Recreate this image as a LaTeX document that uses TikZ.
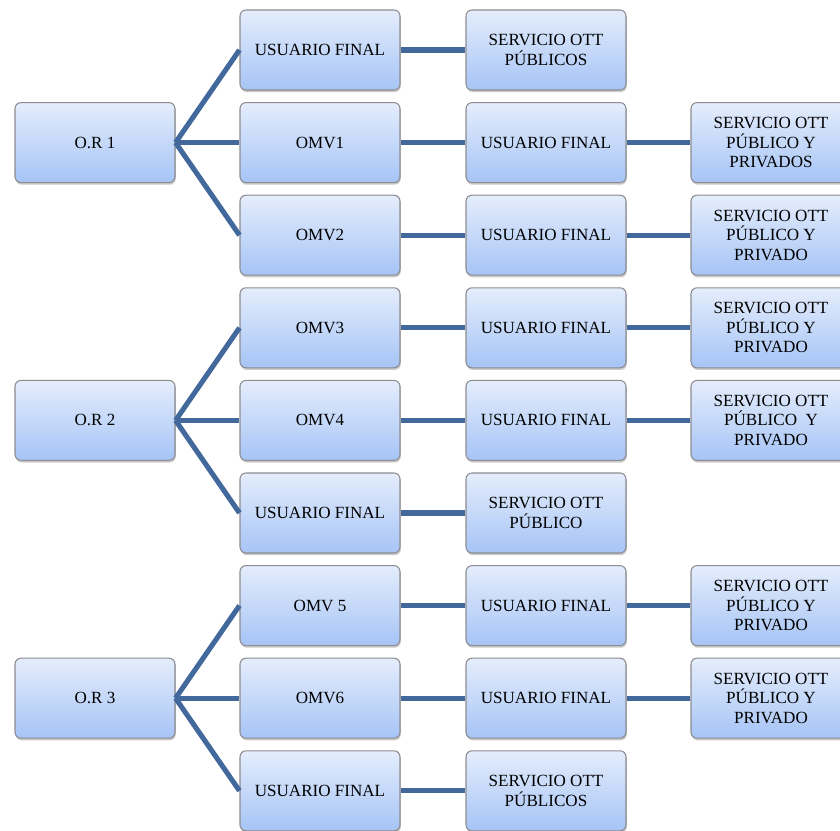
\documentclass[tikz,border=0pt]{standalone}
\usepackage{fontspec}
\setmainfont{Liberation Serif}
\usetikzlibrary{shadows}
\definecolor{linkblue}{RGB}{66,104,156}
\definecolor{boxtop}{RGB}{228,237,252}
\definecolor{boxbot}{RGB}{166,196,246}
\definecolor{boxedge}{RGB}{140,140,145}
\tikzset{
  box/.style={draw=boxedge, line width=0.8pt, rounded corners=4.5pt,
    top color=boxtop, bottom color=boxbot,
    minimum width=120pt, minimum height=60pt, inner sep=1pt,
    align=center, font=\fontsize{12.8}{14.6}\selectfont,
    drop shadow={shadow xshift=0.6pt, shadow yshift=-1.6pt, opacity=0.35, fill=black!60}},
  link/.style={draw=linkblue, line width=3.8pt}
}
\begin{document}
\begin{tikzpicture}[x=0.75pt,y=-0.75pt]
\useasboundingbox (0,0) rectangle (840,831);
\clip (0,0) rectangle (840,831);
% column 1
\node[box] (or1) at (95,142.6) {O.R 1};
\node[box] (or2) at (95,420.4) {O.R 2};
\node[box] (or3) at (95,698.2) {O.R 3};
% column 2
\node[box] (b1) at (320,50) {USUARIO FINAL};
\node[box] (b2) at (320,142.6) {OMV1};
\node[box] (b3) at (320,235.2) {OMV2};
\node[box] (b4) at (320,327.8) {OMV3};
\node[box] (b5) at (320,420.4) {OMV4};
\node[box] (b6) at (320,513) {USUARIO FINAL};
\node[box] (b7) at (320,605.6) {OMV 5};
\node[box] (b8) at (320,698.2) {OMV6};
\node[box] (b9) at (320,790.8) {USUARIO FINAL};
% column 3
\node[box] (c1) at (546,50) {SERVICIO OTT\\PÚBLICOS};
\node[box] (c2) at (546,142.6) {USUARIO FINAL};
\node[box] (c3) at (546,235.2) {USUARIO FINAL};
\node[box] (c4) at (546,327.8) {USUARIO FINAL};
\node[box] (c5) at (546,420.4) {USUARIO FINAL};
\node[box] (c6) at (546,513) {SERVICIO OTT\\PÚBLICO};
\node[box] (c7) at (546,605.6) {USUARIO FINAL};
\node[box] (c8) at (546,698.2) {USUARIO FINAL};
\node[box] (c9) at (546,790.8) {SERVICIO OTT\\PÚBLICOS};
% column 4
\node[box] (d2) at (771,142.6) {SERVICIO OTT\\PÚBLICO Y\\PRIVADOS};
\node[box] (d3) at (771,235.2) {SERVICIO OTT\\PÚBLICO Y\\PRIVADO};
\node[box] (d4) at (771,327.8) {SERVICIO OTT\\PÚBLICO Y\\PRIVADO};
\node[box] (d5) at (771,420.4) {SERVICIO OTT\\PÚBLICO\ \ Y\\PRIVADO};
\node[box] (d7) at (771,605.6) {SERVICIO OTT\\PÚBLICO Y\\PRIVADO};
\node[box] (d8) at (771,698.2) {SERVICIO OTT\\PÚBLICO Y\\PRIVADO};
% connectors
\foreach \s/\t in {or1/b1,or1/b2,or1/b3,or2/b4,or2/b5,or2/b6,or3/b7,or3/b8,or3/b9,
  b1/c1,b2/c2,b3/c3,b4/c4,b5/c5,b6/c6,b7/c7,b8/c8,b9/c9,
  c2/d2,c3/d3,c4/d4,c5/d5,c7/d7,c8/d8}
  \draw[link] (\s.east) -- (\t.west);
\end{tikzpicture}
\end{document}
